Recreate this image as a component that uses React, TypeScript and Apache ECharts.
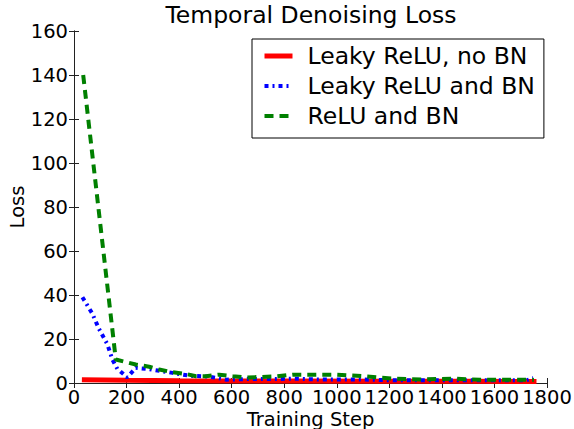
import React, { useEffect, useRef } from "react";
import * as echarts from "echarts";

const redSteps = [30, 200, 400, 800, 1200, 1500, 1760];
const redLoss = [1.5, 1.2, 1.0, 0.9, 0.8, 0.75, 0.7];

const blueSteps = [32, 70, 95, 127, 146, 165, 191, 202, 235, 286, 375, 440, 502, 545, 580, 655, 769, 833, 934, 1100, 1214, 1329, 1443, 1545, 1723, 1748];
const blueLoss = [39, 31.5, 24.6, 17.6, 10.7, 6.4, 3.8, 2.5, 6.9, 6.3, 4.6, 3.3, 3.0, 2.3, 1.5, 1.8, 1.8, 2.0, 1.6, 1.6, 1.2, 1.2, 1.3, 1.2, 1.3, 2.2];

const greenSteps = [35, 159, 235, 286, 324, 375, 426, 464, 502, 553, 604, 655, 769, 833, 934, 998, 1100, 1214, 1329, 1443, 1545, 1723, 1750];
const greenLoss = [140, 10.7, 8.4, 7.4, 6.1, 4.9, 4.1, 3.1, 3.1, 3.8, 3.1, 2.5, 3.0, 3.8, 3.8, 3.8, 3.1, 2.0, 1.6, 2.0, 1.5, 1.5, 1.4];

const seriesNames = ["Leaky ReLU, no BN", "Leaky ReLU and BN", "ReLU and BN"];
const seriesColors = ["#ff0000", "#0000ff", "#008000"];
const seriesWidths = [5, 4, 4];
const seriesDashes: any[] = ["solid", [4, 4, 2, 4], [9, 6]];

const FONT = "DejaVu Sans";
const TICK_FS = 19.5;

function pairs(xs: number[], ys: number[]) {
  return xs.map((x, i) => [x, ys[i]]);
}

export default function App() {
  const ref = useRef<HTMLDivElement>(null);
  useEffect(() => {
    document.body.style.margin = "0";
    const chart = echarts.init(ref.current!, null, { renderer: "svg" });
    const axisLine = { show: true, lineStyle: { color: "#222", width: 1 } };
    const tick = { show: true, inside: true, length: 5, lineStyle: { color: "#222" } };
    const allSteps = [redSteps, blueSteps, greenSteps];
    const allLoss = [redLoss, blueLoss, greenLoss];
    chart.setOption({
      animation: false,
      backgroundColor: "#fff",
      title: {
        text: "Temporal Denoising Loss",
        left: 311,
        textAlign: "center",
        top: 3,
        padding: 0,
        textStyle: { fontFamily: FONT, fontSize: 23.5, fontWeight: "normal", color: "#000" },
      },
      grid: { left: 74, right: 27, top: 31, bottom: 46, outerBoundsMode: "none", containLabel: false },
      legend: {
        orient: "vertical",
        left: 252,
        top: 39,
        data: seriesNames.map((n, i) => ({
          name: n,
          itemStyle: { opacity: 0, color: "transparent", borderWidth: 0 },
          lineStyle: { width: seriesWidths[i], color: seriesColors[i], type: seriesDashes[i] },
        })),
        itemWidth: 28,
        itemHeight: 14,
        itemGap: 0,
        padding: [2, 9, 7, 10],
        backgroundColor: "#fff",
        borderColor: "#000",
        borderWidth: 1,
        borderRadius: 0,
        itemStyle: { opacity: 0, color: "transparent", borderWidth: 0 },
        textStyle: {
          fontFamily: FONT,
          fontSize: 23.5,
          color: "#000",
          lineHeight: 30,
          padding: [0, 0, 0, 10],
        },
      },
      xAxis: [
        {
          type: "value",
          min: 0,
          max: 1800,
          interval: 200,
          name: "Training Step",
          nameLocation: "middle",
          nameGap: 26,
          nameMoveOverlap: false,
          nameTextStyle: { fontFamily: FONT, fontSize: TICK_FS, color: "#000" },
          axisLine,
          axisTick: tick,
          axisLabel: {
            fontFamily: FONT,
            fontSize: TICK_FS,
            color: "#000",
            margin: 4,
            formatter: (v: number) => String(v),
          },
          splitLine: { show: false },
        },
        {
          type: "value",
          position: "top",
          min: 0,
          max: 1800,
          interval: 200,
          axisLine,
          axisTick: tick,
          axisLabel: { show: false },
          splitLine: { show: false },
        },
      ],
      yAxis: [
        {
          type: "value",
          min: 0,
          max: 160,
          interval: 20,
          name: "Loss",
          nameLocation: "middle",
          nameGap: 47,
          nameMoveOverlap: false,
          nameTextStyle: { fontFamily: FONT, fontSize: TICK_FS, color: "#000" },
          axisLine,
          axisTick: tick,
          axisLabel: { fontFamily: FONT, fontSize: TICK_FS, color: "#000", margin: 6 },
          splitLine: { show: false },
        },
        {
          type: "value",
          position: "right",
          min: 0,
          max: 160,
          interval: 20,
          axisLine,
          axisTick: tick,
          axisLabel: { show: false },
          splitLine: { show: false },
        },
      ],
      series: seriesNames.map((n, i) => ({
        name: n,
        type: "line",
        symbol: "none",
        data: pairs(allSteps[i], allLoss[i]),
        color: seriesColors[i],
        lineStyle: { color: seriesColors[i], width: seriesWidths[i], type: seriesDashes[i] },
      })),
    });
    return () => chart.dispose();
  }, []);
  return <div ref={ref} style={{ width: 574, height: 429 }} />;
}
